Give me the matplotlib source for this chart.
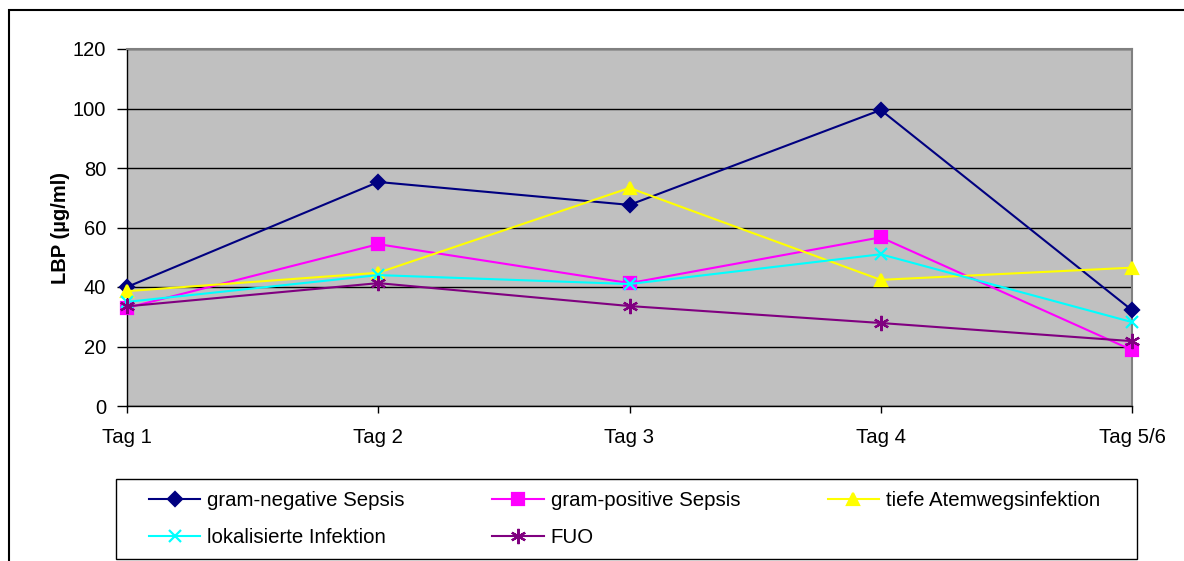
import numpy as np
import matplotlib
matplotlib.use('Agg')
import matplotlib.pyplot as plt
from matplotlib.patches import Rectangle

plt.rcParams['font.family'] = ['Liberation Sans', 'DejaVu Sans']

# data
days = ['Tag 1', 'Tag 2', 'Tag 3', 'Tag 4', 'Tag 5/6']
gram_neg = [40.0, 75.3, 67.6, 99.5, 32.2]
gram_pos = [33.0, 54.4, 41.3, 56.7, 18.8]
tiefe    = [38.6, 44.8, 73.3, 42.4, 46.5]
lokal    = [35.0, 44.0, 41.0, 51.0, 28.2]
fuo      = [33.5, 41.3, 33.6, 27.9, 21.8]

series = [
    ('gram-negative Sepsis',     gram_neg, '#000080', 'D', 7),
    ('gram-positive Sepsis',     gram_pos, '#FF00FF', 's', 8),
    ('tiefe Atemwegsinfektion',  tiefe,    '#FFFF00', '^', 9),
    ('lokalisierte Infektion',   lokal,    '#00FFFF', 'x', 9),
    ('FUO',                      fuo,      '#800080', (6, 2, 0), 11),
]

W, H = 1184, 561
fig = plt.figure(figsize=(W/100, H/100), dpi=100)
ax = fig.add_axes([127/W, 1-406/H, (1132-127)/W, (406-49)/H])
ax.set_facecolor('#C0C0C0')

x = np.arange(len(days))
lines = []
for name, vals, col, mk, ms in series:
    l, = ax.plot(x, vals, color=col, lw=1.5, marker=mk, ms=ms,
                 mec=col, mfc=col, mew=1.6, label=name, clip_on=False, zorder=3)
    lines.append(l)

ax.set_xlim(0, 4)
ax.set_ylim(0, 120)
ax.set_yticks(range(0, 121, 20))
ax.set_xticks(x)
ax.set_xticklabels(days)
ax.yaxis.grid(True, color='black', lw=1)
ax.set_axisbelow(True)
ax.tick_params(axis='y', direction='out', length=7, width=1, pad=8, labelsize=14.5)
ax.tick_params(axis='x', direction='out', length=5, width=1, pad=11, labelsize=14.7)

for s in ['top', 'right']:
    ax.spines[s].set_color('#808080')
    ax.spines[s].set_linewidth(1.5)
for s in ['left', 'bottom']:
    ax.spines[s].set_color('black')
    ax.spines[s].set_linewidth(1)

fig.text(60/W, 1-228/H, 'LBP (µg/ml)', rotation=90, ha='center', va='center',
         fontsize=14.5, fontweight='bold')

# legend, row-major order
order = [0, 3, 1, 4, 2]
leg = fig.legend([lines[i] for i in order], [series[i][0] for i in order],
                 loc='upper left', ncol=3, bbox_to_anchor=(149/W, 1-491/H),
                 fontsize=14.7, frameon=False,
                 handlelength=2.5, handletextpad=0.35, columnspacing=4.3,
                 borderpad=0, labelspacing=0.9, borderaxespad=0)
fig.patches.append(Rectangle((116/W, 1-559/H), (1137-116)/W, 80/H,
                             transform=fig.transFigure, fill=False,
                             edgecolor='black', lw=1))

# outer chart frame
fig.patches.append(Rectangle((9/W, -0.1), 1.2, 1.1-10/H, transform=fig.transFigure,
                             fill=False, edgecolor='black', lw=1.5))

fig.savefig('out.png', dpi=100)
